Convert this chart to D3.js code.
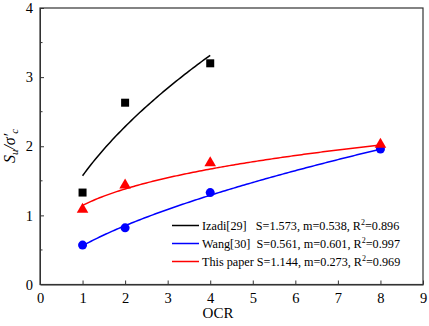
<!DOCTYPE html>
<html>
<head>
<meta charset="utf-8">
<script src="https://cdn.jsdelivr.net/npm/d3@7"></script>
<style>
  body { margin: 0; background: #fff; }
  svg text { font-family: "Liberation Serif", serif; }
  .axis text { font-size: 14.5px; fill: #000; }
  .axis path, .axis line { stroke: #333; }
  .legend text { font-size: 12.2px; }
</style>
</head>
<body>
<div id="chart"></div>
<script>
// measured points
const ocrIzadi = [1, 2, 4];
const suIzadi = [1.33, 2.63, 3.2];
const ocrWang = [1, 2, 4, 8];
const suWang = [0.57, 0.82, 1.33, 1.96];
const ocrPaper = [1, 2, 4, 8];
const suPaper = [1.08, 1.43, 1.75, 2.02];

// fitted Su/σ'c = S * OCR^m (from legend)
const fitNames = ["Izadi[29]\u00a0\u00a0\u00a0", "Wang[30]\u00a0\u00a0", "This paper\u00a0"];
const fitS = [1.573, 0.561, 1.144];
const fitM = [0.538, 0.601, 0.273];
const fitR2 = [0.896, 0.997, 0.969];
const fitMaxOcr = [4, 8, 8];
const colors = ["#000000", "#0000ff", "#ff0000"];

const xTicks = [0, 1, 2, 3, 4, 5, 6, 7, 8, 9];
const yTicks = [0, 1, 2, 3, 4];
const yMinor = [0.5, 1.5, 2.5, 3.5];

const width = 429, height = 326;
const margin = {top: 8, right: 6, bottom: 41.5, left: 40};
const w = width - margin.left - margin.right;
const h = height - margin.top - margin.bottom;

const svg = d3.select("#chart").append("svg")
    .attr("width", width)
    .attr("height", height);

const g = svg.append("g")
    .attr("transform", "translate(" + margin.left + "," + margin.top + ")");

const x = d3.scaleLinear().domain([0, 9]).range([0, w]);
const y = d3.scaleLinear().domain([0, 4]).range([h, 0]);

// axes (ticks point inward)
const xAxis = g.append("g")
    .attr("class", "axis")
    .attr("transform", "translate(0," + h + ")")
    .call(d3.axisBottom(x).tickValues(xTicks).tickFormat(d3.format("d")).tickSizeInner(-4).tickSizeOuter(0).tickPadding(8));
xAxis.attr("font-family", null).attr("font-size", null);
xAxis.select(".tick:first-of-type line").remove();

const yAxis = g.append("g")
    .attr("class", "axis")
    .call(d3.axisLeft(y).tickValues(yTicks).tickFormat(d3.format("d")).tickSizeInner(-4).tickSizeOuter(0).tickPadding(7));
yAxis.attr("font-family", null).attr("font-size", null);
yAxis.select(".tick:first-of-type line").remove();

g.append("g")
    .selectAll("line")
    .data(yMinor)
    .join("line")
    .attr("x1", 0).attr("x2", 2.5)
    .attr("y1", d => y(d)).attr("y2", d => y(d))
    .attr("stroke", "#333");

// frame
g.append("rect")
    .attr("x", 0).attr("y", 0)
    .attr("width", w).attr("height", h)
    .attr("fill", "none")
    .attr("stroke", "#333")
    .attr("stroke-width", 1.2);

// fit curves
const line = d3.line().x(d => x(d[0])).y(d => y(d[1]));
fitS.forEach((s, i) => {
    const pts = d3.range(1, fitMaxOcr[i] + 0.001, 0.05).map(o => [o, s * Math.pow(o, fitM[i])]);
    g.append("path")
        .datum(pts)
        .attr("d", line)
        .attr("fill", "none")
        .attr("stroke", colors[i])
        .attr("stroke-width", 1.5);
});

// markers
g.selectAll("rect.izadi")
    .data(ocrIzadi)
    .join("rect")
    .attr("class", "izadi")
    .attr("x", d => x(d) - 4)
    .attr("y", (d, i) => y(suIzadi[i]) - 4)
    .attr("width", 8).attr("height", 8)
    .attr("fill", colors[0]);

g.selectAll("circle.wang")
    .data(ocrWang)
    .join("circle")
    .attr("class", "wang")
    .attr("cx", d => x(d))
    .attr("cy", (d, i) => y(suWang[i]))
    .attr("r", 4.5)
    .attr("fill", colors[1]);

const tri = d3.symbol().type(d3.symbolTriangle).size(58);
g.selectAll("path.paper")
    .data(ocrPaper)
    .join("path")
    .attr("class", "paper")
    .attr("d", tri)
    .attr("transform", (d, i) => "translate(" + x(d) + "," + (y(suPaper[i]) - 0.5) + ")")
    .attr("fill", colors[2]);

// legend
const legend = svg.append("g").attr("class", "legend");
fitNames.forEach((name, i) => {
    const ly = 225.5 + i * 18;
    legend.append("line")
        .attr("x1", 172).attr("x2", 199)
        .attr("y1", ly).attr("y2", ly)
        .attr("stroke", colors[i])
        .attr("stroke-width", 1.5);
    const t = legend.append("text")
        .attr("x", 202).attr("y", ly + 4)
        .attr("fill", "#000");
    t.append("tspan").text(name + "S=" + fitS[i].toFixed(3) + ", m=" + fitM[i].toFixed(3) + ", R");
    t.append("tspan").attr("font-size", "8px").attr("dy", -5).text("2");
    t.append("tspan").attr("dy", 5).text("=" + fitR2[i].toFixed(3));
});

// axis titles
svg.append("text")
    .attr("x", 218).attr("y", 318)
    .attr("text-anchor", "middle")
    .attr("font-size", "15px")
    .text("OCR");

const yl = svg.append("text")
    .attr("transform", "translate(15,146) rotate(-90)")
    .attr("text-anchor", "middle")
    .attr("font-size", "16px")
    .attr("font-style", "italic");
yl.append("tspan").text("S");
yl.append("tspan").attr("font-size", "11px").attr("dy", 3).text("u");
yl.append("tspan").attr("dy", -3).text("/σ′");
yl.append("tspan").attr("font-size", "11px").attr("dy", 3).text("c");
</script>
</body>
</html>
